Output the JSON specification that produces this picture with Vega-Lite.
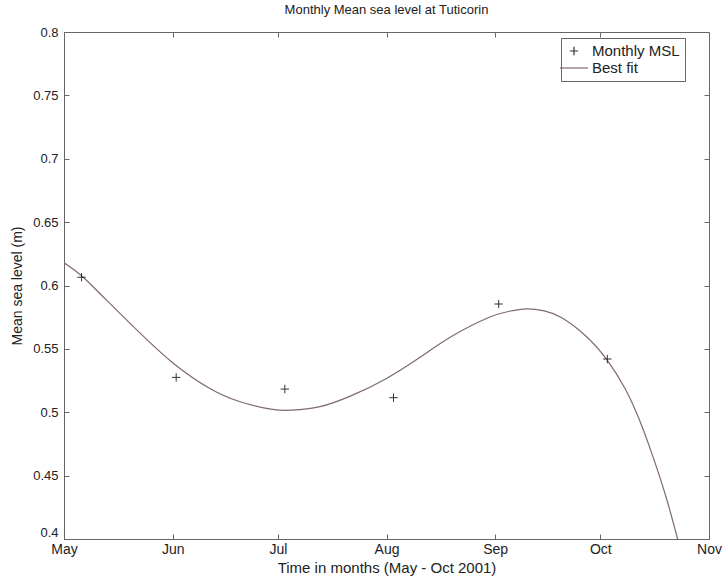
{
  "$schema": "https://vega.github.io/schema/vega-lite/v6.json",
  "width": 645,
  "height": 507,
  "autosize": "none",
  "padding": {"left": 64, "top": 32, "right": 15, "bottom": 40},
  "background": "white",
  "title": {"text": "Monthly Mean sea level at Tuticorin", "fontSize": 13, "fontWeight": "normal", "font": "Liberation Sans", "color": "#222", "offset": 9},
  "config": {
    "view": {"stroke": "#666", "strokeWidth": 1},
    "axis": {"grid": false, "domainColor": "#666", "tickColor": "#666", "labelFont": "Liberation Sans", "labelFontSize": 13, "labelColor": "#222", "titleFont": "Liberation Sans", "titleFontSize": 14, "titleFontWeight": "normal", "titleColor": "#222", "tickSize": -5}
  },
  "layer": [
    {
      "data": {"values": [
        {"date": "2001-05-01", "msl": 0.618, "series": "Best fit"},
        {"date": "2001-05-06", "msl": 0.6077, "series": "Best fit"},
        {"date": "2001-05-13", "msl": 0.5888, "series": "Best fit"},
        {"date": "2001-05-23", "msl": 0.5616, "series": "Best fit"},
        {"date": "2001-06-01", "msl": 0.5391, "series": "Best fit"},
        {"date": "2001-06-11", "msl": 0.5197, "series": "Best fit"},
        {"date": "2001-06-20", "msl": 0.5085, "series": "Best fit"},
        {"date": "2001-06-29", "msl": 0.5025, "series": "Best fit"},
        {"date": "2001-07-05", "msl": 0.5016, "series": "Best fit"},
        {"date": "2001-07-13", "msl": 0.5044, "series": "Best fit"},
        {"date": "2001-07-22", "msl": 0.5131, "series": "Best fit"},
        {"date": "2001-08-01", "msl": 0.5267, "series": "Best fit"},
        {"date": "2001-08-11", "msl": 0.5442, "series": "Best fit"},
        {"date": "2001-08-20", "msl": 0.5605, "series": "Best fit"},
        {"date": "2001-08-30", "msl": 0.5745, "series": "Best fit"},
        {"date": "2001-09-05", "msl": 0.5797, "series": "Best fit"},
        {"date": "2001-09-10", "msl": 0.5816, "series": "Best fit"},
        {"date": "2001-09-15", "msl": 0.5800, "series": "Best fit"},
        {"date": "2001-09-20", "msl": 0.5745, "series": "Best fit"},
        {"date": "2001-09-27", "msl": 0.5598, "series": "Best fit"},
        {"date": "2001-10-03", "msl": 0.5410, "series": "Best fit"},
        {"date": "2001-10-08", "msl": 0.5190, "series": "Best fit"},
        {"date": "2001-10-12", "msl": 0.4950, "series": "Best fit"},
        {"date": "2001-10-16", "msl": 0.4650, "series": "Best fit"},
        {"date": "2001-10-20", "msl": 0.4308, "series": "Best fit"},
        {"date": "2001-10-24", "msl": 0.3900, "series": "Best fit"}
      ]},
      "mark": {"type": "line", "interpolate": "natural", "clip": true, "strokeWidth": 1.2},
      "encoding": {
        "x": {"field": "date", "type": "temporal",
          "scale": {"type": "utc", "domain": [{"year": 2001, "month": 5, "date": 1, "utc": true}, {"year": 2001, "month": 11, "date": 1, "utc": true}]},
          "axis": {"title": "Time in months (May - Oct 2001)", "format": "%b", "labelFontSize": 14, "labelPadding": 8, "titlePadding": 4, "titleFontSize": 15, "labelFlush": false,
            "values": [
              {"year": 2001, "month": 5, "date": 1, "utc": true},
              {"year": 2001, "month": 6, "date": 1, "utc": true},
              {"year": 2001, "month": 7, "date": 1, "utc": true},
              {"year": 2001, "month": 8, "date": 1, "utc": true},
              {"year": 2001, "month": 9, "date": 1, "utc": true},
              {"year": 2001, "month": 10, "date": 1, "utc": true},
              {"year": 2001, "month": 11, "date": 1, "utc": true}
            ]}},
        "y": {"field": "msl", "type": "quantitative",
          "scale": {"domain": [0.4, 0.8], "nice": false, "zero": false},
          "axis": {"title": "Mean sea level (m)", "format": "~g", "labelPadding": 11, "titlePadding": 8, "values": [0.4, 0.45, 0.5, 0.55, 0.6, 0.65, 0.7, 0.75, 0.8],
            "labelBaseline": {"condition": {"test": "datum.value < 0.42", "value": "bottom"}, "value": "middle"}}},
        "color": {"field": "series", "type": "nominal",
          "scale": {"domain": ["Monthly MSL", "Best fit"], "range": ["#333333", "#806870"]},
          "legend": {"title": null, "orient": "none", "legendX": 497, "legendY": 6, "strokeColor": "#666", "fillColor": "white", "padding": 5, "labelFont": "Liberation Sans", "labelFontSize": 15, "labelColor": "#222", "labelOffset": 10, "symbolSize": 196, "symbolStrokeWidth": 1.2, "rowPadding": 1}}
      }
    },
    {
      "data": {"values": [
        {"date": "2001-05-06", "msl": 0.6065, "series": "Monthly MSL"},
        {"date": "2001-06-02", "msl": 0.5275, "series": "Monthly MSL"},
        {"date": "2001-07-03", "msl": 0.5183, "series": "Monthly MSL"},
        {"date": "2001-08-03", "msl": 0.5115, "series": "Monthly MSL"},
        {"date": "2001-09-02", "msl": 0.5854, "series": "Monthly MSL"},
        {"date": "2001-10-03", "msl": 0.542, "series": "Monthly MSL"}
      ]},
      "mark": {"type": "point", "filled": false, "strokeWidth": 1, "size": 196, "opacity": 1},
      "encoding": {
        "x": {"field": "date", "type": "temporal", "axis": null},
        "y": {"field": "msl", "type": "quantitative", "axis": null},
        "color": {"field": "series", "type": "nominal"},
        "shape": {"field": "series", "type": "nominal",
          "scale": {"domain": ["Monthly MSL", "Best fit"], "range": ["M-0.6,0H0.6M0,-0.6V0.6", "M-2,0H2"]}}
      }
    },
    {
      "data": {"values": [
        {"date": "2001-05-06", "msl": 0.6065},
        {"date": "2001-10-03", "msl": 0.542}
      ]},
      "mark": {"type": "point", "opacity": 0},
      "encoding": {
        "x": {"field": "date", "type": "temporal",
          "axis": {"orient": "top", "labels": false, "title": null, "domain": false,
            "values": [
              {"year": 2001, "month": 6, "date": 1, "utc": true},
              {"year": 2001, "month": 7, "date": 1, "utc": true},
              {"year": 2001, "month": 8, "date": 1, "utc": true},
              {"year": 2001, "month": 9, "date": 1, "utc": true},
              {"year": 2001, "month": 10, "date": 1, "utc": true}
            ]}},
        "y": {"field": "msl", "type": "quantitative",
          "axis": {"orient": "right", "labels": false, "title": null, "domain": false, "values": [0.45, 0.5, 0.55, 0.6, 0.65, 0.7, 0.75]}}
      }
    }
  ],
  "resolve": {"axis": {"x": "independent", "y": "independent"}}
}
